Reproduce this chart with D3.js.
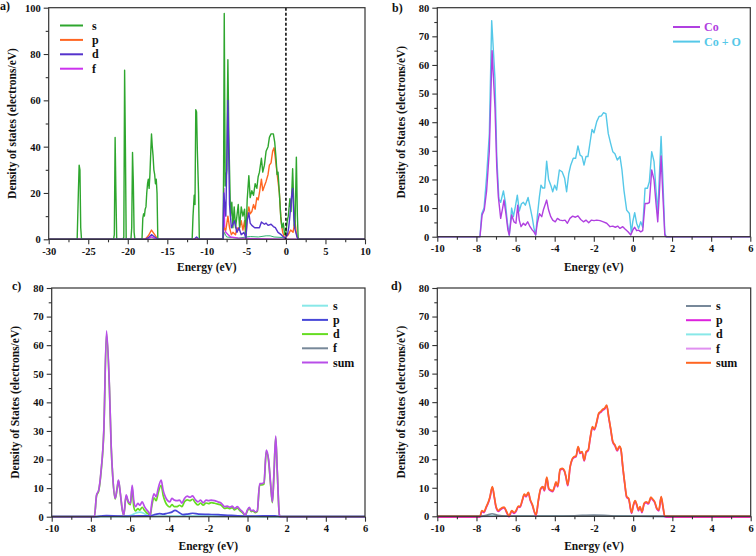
<!DOCTYPE html>
<html><head><meta charset="utf-8">
<script src="https://cdn.jsdelivr.net/npm/d3@7"></script>
<style>body{margin:0;background:#fff}</style>
</head><body><svg id="chart" width="756" height="556"></svg>
<script>
// ---------- DATA ----------
// Panel a) : [energy eV, DOS]
const aS = [[-30,0],[-26.4,0],[-26.25,20],[-26.15,32],[-26.05,30],[-25.95,5],[-25.85,0],
[-21.8,0],[-21.7,2],[-21.6,44],[-21.5,20],[-21.4,0],
[-20.6,0],[-20.5,1],[-20.4,73],[-20.3,40],[-20.2,0],
[-19.6,0],[-19.5,5],[-19.4,37.5],[-19.3,25],[-19.2,3],[-19.1,0],
[-18.2,0],[-18.1,9],[-18.0,11],[-17.9,10],[-17.8,13],[-17.7,14],[-17.6,20],[-17.5,24],[-17.4,26],[-17.3,22],[-17.2,28],[-17.1,37],[-17.0,45.5],[-16.9,40],[-16.8,36],[-16.7,30],[-16.6,28],[-16.5,24],[-16.4,26],[-16.3,20],[-16.2,0],
[-12.0,0],[-11.85,0.5],[-11.75,10],[-11.6,19],[-11.5,15],[-11.4,56],[-11.3,55],[-11.2,38],[-11.05,20],[-10.95,0],
[-7.95,0],[-7.88,30],[-7.8,97.5],[-7.68,23],[-7.47,30],[-7.4,60],[-7.34,77.5],[-7.22,45],[-7.13,30],[-7.0,10],[-6.84,16],[-6.71,5],[-6.54,14],[-6.37,5],[-6.2,10],[-6.03,15],[-5.86,5],[-5.65,14],[-5.44,10],[-5.23,13],[-5.06,0.5],[-4.9,17],[-4.69,27.5],[-4.52,18],[-4.31,21],[-4.1,19],[-3.89,24],[-3.68,22],[-3.51,27],[-3.35,29],[-3.1,35],[-2.93,29],[-2.72,32],[-2.51,38],[-2.26,40],[-2.09,44],[-1.88,45.5],[-1.59,45.5],[-1.42,42],[-1.25,35],[-1.12,28],[-1.0,29],[-0.83,20],[-0.66,10],[-0.5,5],[-0.33,7],[-0.16,2],[0.0,3],[0.17,8],[0.3,10],[0.5,17.5],[0.65,12],[0.85,30.5],[0.95,20],[1.05,6],[1.15,5],[1.32,35.5],[1.45,10],[1.55,0],[10,0]];
const aP = [[-30,0],[-17.8,0],[-17.4,1.5],[-17.0,4],[-16.6,2],[-16.2,0],[-11.6,0],[-11.3,0.6],[-11.0,0],
[-7.95,0],[-7.85,5],[-7.6,4],[-7.34,10],[-7.13,5],[-6.9,2],[-6.7,3],[-6.37,2],[-6.2,5],[-5.95,4],[-5.65,8],[-5.44,4],[-5.23,8],[-5.06,0.5],[-4.9,10],[-4.69,14],[-4.52,11],[-4.31,12],[-4.1,15],[-3.89,13],[-3.68,18],[-3.51,17],[-3.35,20],[-3.1,26],[-2.93,21],[-2.72,23],[-2.51,25],[-2.26,28],[-2.09,32],[-1.88,33],[-1.68,38],[-1.5,39.5],[-1.34,35],[-1.17,30],[-1.0,25],[-0.83,20],[-0.62,8],[-0.41,3],[-0.16,0.5],[0.3,2],[0.6,4],[0.9,3],[1.15,8],[1.3,3],[1.45,1],[1.55,0],[10,0]];
const aD = [[-30,0],[-17.8,0],[-17.3,1],[-17.0,2],[-16.6,1],[-16.2,0],[-11.6,0],[-11.3,1],[-11.0,0],
[-7.95,0],[-7.85,20],[-7.6,10],[-7.34,60],[-7.13,15],[-6.9,5],[-6.5,8],[-6.2,3],[-5.95,5],[-5.65,2],[-5.3,3],[-5.06,0.5],[-4.9,8],[-4.69,11.5],[-4.52,7],[-4.31,6],[-3.95,5],[-3.6,5],[-3.35,5],[-3.1,7.5],[-2.72,6.5],[-2.51,7],[-2.26,6],[-1.88,6.5],[-1.59,5.5],[-1.34,5],[-1.0,3],[-0.6,2],[-0.3,1],[-0.1,0.5],[0.2,2],[0.35,5],[0.5,10],[0.7,18],[0.85,22],[1.0,10],[1.1,5],[1.25,3],[1.4,1],[1.55,0],[10,0]];
const aF = [[-30,0],[-17.6,0],[-17.0,1],[-16.4,0],[-7.95,0],[-7.85,22],[-7.75,5],[-7.6,3],[-7.3,2],[-7.0,1],[-6.0,0.5],[-4,0.3],[0,0],[10,0]];
const aTotalS = [[-30,0],[-7.95,0],[-7.8,3],[-7.5,1],[-6,0.5],[-5,1],[-4.5,1.2],[-3.5,1],[-2.5,1.5],[-2,1.5],[-1.5,1],[-0.5,0.8],[0,0],[10,0]];

// Panel b) and c) : Co total, Co+O total
const coTotal = [[-10,0],[-7.82,0],[-7.71,7.6],[-7.60,9.3],[-7.48,16],[-7.34,30],[-7.20,65],[-7.05,45],[-6.96,24.4],[-6.88,14],[-6.76,6.4],[-6.66,10],[-6.59,12.8],[-6.49,8],[-6.39,2.3],[-6.32,0.6],[-6.20,7.6],[-6.08,5.2],[-5.98,4.7],[-5.89,11],[-5.81,5.8],[-5.72,3.5],[-5.60,4.7],[-5.50,4],[-5.38,5.2],[-5.26,3.5],[-5.14,2.3],[-5.06,1.7],[-4.97,0.6],[-4.89,4.7],[-4.78,8],[-4.66,7],[-4.58,9.3],[-4.41,12.8],[-4.31,9.3],[-4.20,7],[-4.10,5.8],[-3.97,5.2],[-3.86,6.4],[-3.73,5.8],[-3.59,5.6],[-3.47,5.8],[-3.35,4.7],[-3.22,6.4],[-3.08,7.2],[-2.94,6.8],[-2.81,7.3],[-2.67,6],[-2.53,5.2],[-2.40,5.8],[-2.26,4.9],[-2.12,5.8],[-1.99,5.6],[-1.85,5.8],[-1.68,5.6],[-1.51,5.2],[-1.34,4.7],[-1.17,3.5],[-1.03,3.7],[-0.90,3.3],[-0.78,3.7],[-0.66,2.9],[-0.52,3.5],[-0.39,2.6],[-0.25,1.7],[-0.11,0.6],[-0.01,2.3],[0.09,3.3],[0.19,2.1],[0.29,2.3],[0.40,1.7],[0.50,2.1],[0.62,11.6],[0.74,11.6],[0.84,11.9],[0.96,23.3],[1.08,19.8],[1.18,11.6],[1.27,5.2],[1.35,15],[1.44,28.2],[1.52,16],[1.63,0.6],[1.70,0],[6,0]];
const coOTotal = [[-10,0],[-7.82,0],[-7.73,8],[-7.61,10],[-7.48,21],[-7.34,36],[-7.22,75.5],[-7.05,55],[-6.96,28],[-6.85,13],[-6.76,12],[-6.62,16],[-6.52,12],[-6.42,5],[-6.32,0.5],[-6.20,10],[-6.11,7],[-6.01,10.5],[-5.91,14.5],[-5.81,9],[-5.70,11.5],[-5.60,12],[-5.50,11],[-5.36,13.7],[-5.26,10.5],[-5.14,6.4],[-5.06,3],[-4.97,0.6],[-4.89,7],[-4.78,14],[-4.70,18],[-4.61,17],[-4.51,17],[-4.41,26.4],[-4.31,20],[-4.20,18],[-4.10,15.7],[-4.00,18],[-3.90,16.3],[-3.76,23.3],[-3.62,22.7],[-3.49,20.4],[-3.39,15.7],[-3.28,22],[-3.18,25],[-3.05,27.4],[-2.93,27.4],[-2.81,31.7],[-2.70,28.5],[-2.60,28],[-2.50,25],[-2.40,28],[-2.30,28],[-2.19,33],[-2.09,37.5],[-1.99,36.3],[-1.85,40.2],[-1.73,42],[-1.61,42.2],[-1.51,43.3],[-1.38,43],[-1.26,36],[-1.14,32.6],[-1.03,29.7],[-0.92,29],[-0.80,26.8],[-0.66,28],[-0.56,23.3],[-0.46,16.3],[-0.32,9.3],[-0.18,8.1],[-0.08,1.2],[-0.01,5.2],[0.09,8.4],[0.19,4.7],[0.29,2.9],[0.40,5.2],[0.50,3.3],[0.62,16.9],[0.74,16.9],[0.84,19.2],[0.96,29.7],[1.08,26.2],[1.18,16.3],[1.27,8.1],[1.35,21],[1.44,35],[1.52,22],[1.63,1.2],[1.70,0],[6,0]];

// Panel c) : Co partial DOS
const cS = [[-10,0],[-6.2,0],[-5.9,0.6],[-5.7,1.3],[-5.5,1.6],[-5.3,1.2],[-5.1,0.4],[-4.9,0.1],[-3.5,0.2],[-2,0.2],[0,0.1],[1.6,0],[6,0]];
const cP = [[-10,0],[-7.8,0],[-7.5,0.2],[-7.2,0.4],[-6.5,0.2],[-5.5,0.3],[-5,0.3],[-4.7,0.8],[-4.5,1.1],[-4.3,0.9],[-4.1,1.2],[-3.9,1.5],[-3.7,2.2],[-3.5,1.5],[-3.3,0.7],[-3.0,1.0],[-2.8,1.2],[-2.5,0.9],[-2.0,0.8],[-1.5,0.7],[-1.0,0.5],[-0.5,0.3],[0,0.2],[0.8,0.3],[1.4,0.3],[1.7,0],[6,0]];
const cD = [[-10,0],[-7.82,0],[-7.71,7.3],[-7.60,9],[-7.48,15.6],[-7.34,29.5],[-7.20,64],[-7.05,44.5],[-6.96,24],[-6.88,13.7],[-6.76,6.2],[-6.66,9.7],[-6.59,12.5],[-6.49,7.7],[-6.39,2.1],[-6.32,0.5],[-6.20,7.2],[-6.08,4.8],[-5.98,4.2],[-5.89,10.2],[-5.81,3.5],[-5.72,2],[-5.60,2.8],[-5.50,2.3],[-5.38,3.3],[-5.26,2.2],[-5.14,1.3],[-5.06,1],[-4.97,0.3],[-4.89,3.6],[-4.78,6.6],[-4.66,5.6],[-4.58,7.8],[-4.41,11],[-4.31,7.5],[-4.20,5.2],[-4.10,4],[-3.97,3.4],[-3.86,4.2],[-3.73,3.5],[-3.59,3.5],[-3.47,4],[-3.35,3.5],[-3.22,5.2],[-3.08,5.9],[-2.94,5.6],[-2.81,6.1],[-2.67,4.9],[-2.53,4.1],[-2.40,4.8],[-2.26,4],[-2.12,4.8],[-1.99,4.6],[-1.85,4.9],[-1.68,4.7],[-1.51,4.4],[-1.34,4],[-1.17,2.9],[-1.03,3.1],[-0.90,2.8],[-0.78,3.2],[-0.66,2.4],[-0.52,3],[-0.39,2.1],[-0.25,1.3],[-0.11,0.4],[-0.01,2],[0.09,2.9],[0.19,1.8],[0.29,2],[0.40,1.4],[0.50,1.8],[0.62,11.1],[0.74,11.1],[0.84,11.4],[0.96,22.8],[1.08,19.3],[1.18,11.1],[1.27,4.9],[1.35,14.6],[1.44,27.7],[1.52,15.6],[1.63,0.5],[1.70,0],[6,0]];
const cF = [[-10,0],[-7.8,0],[-7.2,0.3],[-6,0.1],[-4,0.2],[-2,0.2],[0,0.1],[1.6,0],[6,0]];

// Panel d) : O partial DOS
const dS = [[-10,0],[-7.8,0],[-7.5,0.3],[-7.2,0.9],[-6.9,0.3],[-6.5,0.1],[-4,0.1],[-3,0.2],[-2,0.4],[-1.5,0.3],[-1,0.1],[1.6,0],[6,0]];
const dD = [[-10,0],[-7.8,0],[-7.2,0.1],[-2,0.1],[1.6,0],[6,0]];
const dF = [[-10,0],[-7.8,0],[-2,0.05],[1.6,0],[6,0]];
const dSum = [[-10,0],[-7.82,0],[-7.73,2],[-7.61,1.6],[-7.51,3.2],[-7.39,5.1],[-7.31,6.9],[-7.19,10.4],[-7.09,6.9],[-7.00,3.4],[-6.88,2],[-6.80,2.5],[-6.59,3.2],[-6.46,1.6],[-6.34,0.1],[-6.20,2],[-6.08,1.3],[-5.98,2],[-5.86,3.6],[-5.78,3.4],[-5.66,5.7],[-5.56,7.8],[-5.47,7.1],[-5.35,8.4],[-5.26,6],[-5.14,4],[-5.04,1.6],[-4.96,0.5],[-4.84,5.7],[-4.72,9.8],[-4.61,10.4],[-4.53,9.2],[-4.41,13.7],[-4.31,9.8],[-4.21,9.2],[-4.11,8.9],[-4.01,10.6],[-3.94,12.1],[-3.85,10.6],[-3.73,16.5],[-3.61,16.8],[-3.51,16],[-3.43,13.9],[-3.34,11],[-3.22,17.4],[-3.12,20],[-3.02,20.9],[-2.92,21.1],[-2.81,24.4],[-2.71,22.3],[-2.61,22.7],[-2.50,19.7],[-2.40,22.7],[-2.30,23.2],[-2.20,27.3],[-2.08,31.4],[-1.98,30.6],[-1.86,33.2],[-1.76,36.1],[-1.66,36.7],[-1.55,37.5],[-1.45,37.9],[-1.35,39],[-1.25,34.9],[-1.15,30.8],[-1.04,26.2],[-0.93,25],[-0.82,23.2],[-0.70,24.6],[-0.63,23.8],[-0.53,17.4],[-0.43,11.6],[-0.33,6.9],[-0.23,6.3],[-0.08,1.3],[0.01,4],[0.10,5.5],[0.19,4],[0.27,2.2],[0.35,3.4],[0.45,1.6],[0.56,4.6],[0.66,5.1],[0.78,4.6],[0.90,6.7],[1.00,6],[1.10,5.1],[1.21,2.8],[1.31,2.2],[1.43,6.9],[1.51,4],[1.62,0.1],[1.69,0],[6,0]];
const dP = dSum; // O p-states make up nearly all of the O total

// Ticks
const xMajorA = [-30,-25,-20,-15,-10,-5,0,5,10];
const xMinorA = [-27.5,-22.5,-17.5,-12.5,-7.5,-2.5,2.5,7.5];
const yMajorA = [0,20,40,60,80,100];
const yMinorA = [10,30,50,70,90];
const xMajorB = [-10,-8,-6,-4,-2,0,2,4,6];
const xMinorB = [-9,-7,-5,-3,-1,1,3,5];
const yMajorB = [0,10,20,30,40,50,60,70,80];
const yMinorB = [5,15,25,35,45,55,65,75];

// ---------- DRAW ----------
const svg = d3.select("#chart");
const FONT = "'Liberation Serif','Times New Roman',serif";
const fmt = d => String(d); // plain hyphen minus, as in the original

function panel(o) {
  const x = d3.scaleLinear().domain(o.xd).range([o.l, o.r]);
  const y = d3.scaleLinear().domain(o.yd).range([o.b, o.t]);
  const g = svg.append("g");

  o.series.forEach(s => {
    const line = d3.line().x(d => x(d[0])).y(d => y(d[1]))
      .curve(o.smooth ? d3.curveMonotoneX : d3.curveLinear);
    g.append("path").datum(s.data).attr("d", line)
      .attr("fill", "none").attr("stroke", s.color)
      .attr("stroke-width", s.w || o.lw || 1.4).attr("stroke-linejoin", "round")
      .attr("transform", s.dy ? `translate(0,${s.dy})` : null);
  });

  if (o.zeroLine) {
    g.append("line").attr("x1", x(0)).attr("x2", x(0)).attr("y1", o.t).attr("y2", o.b)
      .attr("stroke", "#000").attr("stroke-width", 1.5).attr("stroke-dasharray", "3,2");
  }

  g.append("rect").attr("x", o.l).attr("y", o.t).attr("width", o.r - o.l).attr("height", o.b - o.t)
    .attr("fill", "none").attr("stroke", "#333").attr("stroke-width", 1.2);

  const styleAxis = sel => {
    sel.select(".domain").remove();
    sel.selectAll("line").attr("stroke", "#333").attr("stroke-width", 1.1);
    sel.selectAll("text").attr("font-family", FONT).attr("font-weight", "bold")
      .attr("font-size", "10.5px").attr("fill", "#111");
  };
  g.append("g").attr("transform", `translate(0,${o.b})`)
    .call(d3.axisBottom(x).tickValues(o.xMaj).tickFormat(fmt).tickSize(5).tickPadding(3).tickSizeOuter(0)).call(styleAxis);
  g.append("g").attr("transform", `translate(0,${o.b})`)
    .call(d3.axisBottom(x).tickValues(o.xMin).tickSize(3).tickFormat("")).call(styleAxis);
  g.append("g").attr("transform", `translate(${o.l},0)`)
    .call(d3.axisLeft(y).tickValues(o.yMaj).tickFormat(fmt).tickSize(5).tickPadding(3).tickSizeOuter(0)).call(styleAxis);
  g.append("g").attr("transform", `translate(${o.l},0)`)
    .call(d3.axisLeft(y).tickValues(o.yMin).tickSize(3).tickFormat("")).call(styleAxis);

  g.append("text").attr("x", (o.l + o.r) / 2).attr("y", o.xTitleY).attr("text-anchor", "middle")
    .attr("font-family", FONT).attr("font-weight", "bold").attr("font-size", "11.5px").attr("fill", "#111")
    .text("Energy (eV)");
  g.append("text").attr("transform", `translate(${o.yTitleX},${(o.t + o.b) / 2}) rotate(-90)`)
    .attr("text-anchor", "middle").attr("dominant-baseline", "central")
    .attr("font-family", FONT).attr("font-weight", "bold").attr("font-size", "11.5px").attr("fill", "#111")
    .text(o.yTitle);
  g.append("text").attr("x", o.lab[0]).attr("y", o.lab[1])
    .attr("font-family", FONT).attr("font-weight", "bold").attr("font-size", "12px").attr("fill", "#111")
    .text(o.label);

  o.legend.items.forEach((it, i) => {
    const yy = o.legend.y + i * o.legend.dy;
    g.append("line").attr("x1", o.legend.x1).attr("x2", o.legend.x2).attr("y1", yy).attr("y2", yy)
      .attr("stroke", it.color).attr("stroke-width", 2);
    g.append("text").attr("x", o.legend.tx).attr("y", yy).attr("dominant-baseline", "central")
      .attr("font-family", FONT).attr("font-weight", "bold").attr("font-size", "12px")
      .attr("fill", it.textColor || "#111").text(it.name);
  });
}

const C = {
  aS: "#2ea62e", aP: "#ff6622", aD: "#5533cc", aF: "#cc33ee",
  co: "#b040e0", coO: "#55c8e8",
  cS: "#88e8e8", cP: "#4848d8", cD: "#66dd22", cF: "#778899", cSum: "#b84ee8",
  dS: "#778899", dP: "#dd22dd", dD: "#88e8e8", dF: "#e090f0", dSum: "#ff6622"
};

panel({
  l: 48.7, r: 365, t: 7.7, b: 239.3, xd: [-30, 10], yd: [0, 100],
  xMaj: xMajorA, xMin: xMinorA, yMaj: yMajorA, yMin: yMinorA,
  xTitleY: 271, yTitleX: 12, yTitle: "Density of states (electrons/eV)",
  label: "a)", lab: [0, 10], zeroLine: true,
  series: [
    { data: aTotalS, color: "#30b070", w: 1 },
    { data: aF, color: C.aF },
    { data: aP, color: C.aP },
    { data: aS, color: C.aS },
    { data: aD, color: C.aD }
  ],
  legend: { x1: 60, x2: 83, tx: 92, y: 25.5, dy: 14.4, items: [
    { name: "s", color: C.aS }, { name: "p", color: C.aP }, { name: "d", color: C.aD }, { name: "f", color: C.aF }] }
});

panel({
  l: 437.3, r: 750.3, t: 7.7, b: 236.7, xd: [-10, 6], yd: [0, 80],
  xMaj: xMajorB, xMin: xMinorB, yMaj: yMajorB, yMin: yMinorB,
  xTitleY: 271, yTitleX: 401, yTitle: "Density of States (electrons/eV)",
  label: "b)", lab: [392, 12],
  series: [
    { data: coOTotal, color: C.coO },
    { data: coTotal, color: C.co }
  ],
  legend: { x1: 673, x2: 700, tx: 704, y: 27, dy: 14.6, items: [
    { name: "Co", color: C.co, textColor: C.co }, { name: "Co + O", color: C.coO, textColor: C.coO }] }
});

panel({
  l: 51.7, r: 365, t: 288, b: 516.7, xd: [-10, 6], yd: [0, 80], smooth: true, lw: 1.7,
  xMaj: xMajorB, xMin: xMinorB, yMaj: yMajorB, yMin: yMinorB,
  xTitleY: 549.5, yTitleX: 15, yTitle: "Density of States (electrons/eV)",
  label: "c)", lab: [12, 290],
  series: [
    { data: cF, color: C.cF },
    { data: cS, color: C.cS },
    { data: cD, color: C.cD },
    { data: cP, color: C.cP },
    { data: coTotal, color: C.cSum }
  ],
  legend: { x1: 302, x2: 328, tx: 333, y: 305.7, dy: 14.2, items: [
    { name: "s", color: C.cS }, { name: "p", color: C.cP }, { name: "d", color: C.cD },
    { name: "f", color: C.cF }, { name: "sum", color: C.cSum }] }
});

panel({
  l: 437.3, r: 750.7, t: 288, b: 516.3, xd: [-10, 6], yd: [0, 80], smooth: true, lw: 1.7,
  xMaj: xMajorB, xMin: xMinorB, yMaj: yMajorB, yMin: yMinorB,
  xTitleY: 549.5, yTitleX: 401, yTitle: "Density of States (electrons/eV)",
  label: "d)", lab: [391, 290],
  series: [
    { data: dF, color: C.dF },
    { data: dD, color: C.dD },
    { data: dS, color: C.dS },
    { data: dP, color: C.dP, dy: 0.8 },
    { data: dSum, color: C.dSum }
  ],
  legend: { x1: 686, x2: 711, tx: 716, y: 306, dy: 14.2, items: [
    { name: "s", color: C.dS }, { name: "p", color: C.dP }, { name: "d", color: C.dD },
    { name: "f", color: C.dF }, { name: "sum", color: C.dSum }] }
});
</script>
</body></html>
